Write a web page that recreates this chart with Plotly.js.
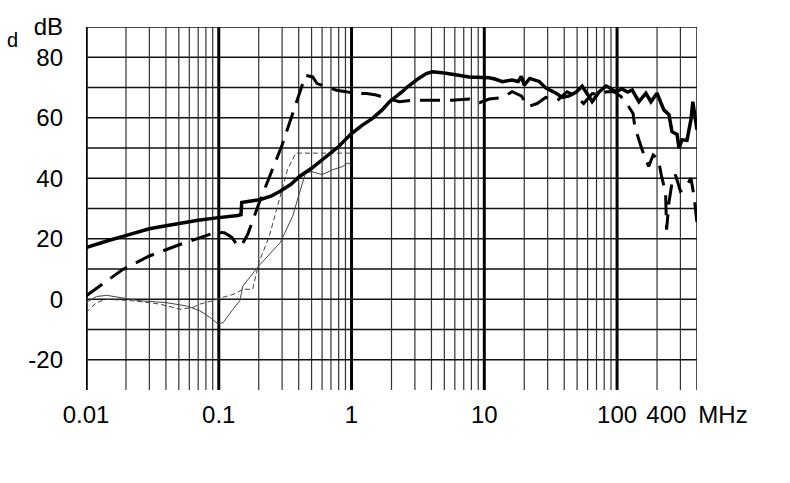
<!DOCTYPE html>
<html>
<head>
<meta charset="utf-8">
<script src="https://cdn.plot.ly/plotly-3.0.1.min.js"></script>
<style>
  html, body { margin: 0; padding: 0; background: #fff; }
  #chart { width: 790px; height: 483px; }
</style>
</head>
<body>
<div id="chart"></div>
<script>
// frequency axis (MHz) and level (dB)
var xTicks = [0.01, 0.1, 1, 10, 100, 400];
var xTickText = ["0.01", "0.1", "1", "10", "100", "400\u2002MHz"];
var yTicks = [-20, -10, 0, 10, 20, 30, 40, 50, 60, 70, 80, 90];
var yTickText = ["-20", "", "0", "", "20", "", "40", "", "60", "", "80", "dB"];

// thick solid curve
var fThick = [0.01, 0.012, 0.015, 0.019, 0.025, 0.03, 0.04, 0.051, 0.07, 0.096, 0.12, 0.139, 0.147, 0.149, 0.17, 0.204,
  0.25, 0.29, 0.35, 0.405, 0.5, 0.605, 0.8, 0.99, 1.2, 1.44, 1.7, 1.93, 2.1, 2.41, 2.6, 2.82, 3.2, 3.66, 4.06, 5.0, 5.7,
  7.7, 9.7, 10.9, 12, 13.7, 16.2, 18, 19, 20, 22, 25.9, 29.3, 34.8, 38.6, 43.5, 49.2, 54.6, 59.4, 64.9, 73.2, 82.7, 87,
  98, 109, 120, 130, 146, 165, 180, 200, 225, 246, 259, 283, 293, 308, 336, 360, 372, 400];
var dbThick = [17.1, 18.3, 19.5, 20.8, 22.2, 23.3, 24.3, 25.2, 26.1, 26.9, 27.3, 27.7, 28.0, 32.0, 32.4, 32.9,
  34.2, 35.7, 38, 40.6, 43.3, 46.1, 50.5, 54.6, 57.5, 59.8, 62.6, 65.3, 66.5, 68.6, 70, 71.3, 73, 74.6, 75.2, 74.8, 74.4,
  73.5, 73.3, 73.2, 72.8, 71.9, 72.5, 72.0, 73.7, 70.8, 73.0, 72, 69.7, 68.1, 66.7, 67.2, 68.5, 70.4, 68.0, 65.3, 68.5, 70.5, 70.0,
  68.6, 69.5, 68.5, 69.2, 65.3, 68.1, 65.3, 68.1, 62.6, 61, 55.4, 54.5, 49.9, 52.7, 52.5, 59.3, 65.3, 56];

// thick dashed curve
var fDash = [0.01, 0.019, 0.03, 0.051, 0.096, 0.11, 0.125, 0.14, 0.15, 0.165, 0.2, 0.3, 0.45, 0.51, 0.55, 0.65, 0.77,
  0.91, 1.09, 1.3, 1.54, 1.83, 2.3, 2.88, 4.1, 5.7, 7.7, 9.2, 10.9, 13.7, 16.2, 19, 21.4, 25, 29, 35.6, 42, 49, 56, 65,
  76, 83, 95, 107, 118, 132, 136, 146, 153, 173, 187, 205, 215, 232, 236, 246, 259, 275, 300, 328, 360, 380, 400];
var dbDash = [1.1, 9.9, 14.3, 18.1, 22.2, 22.0, 20.5, 17.5, 18.1, 21.4, 31.5, 51, 74, 73.5, 71.3, 70.2, 69.1,
  68.6, 68, 68, 67.5, 66.4, 65.3, 65.8, 65.8, 65.8, 66.2, 65, 66.2, 66.7, 68.6, 67.2, 63.7, 64.7, 66.7, 65.7, 68.6, 67.2, 64.7, 68,
  67.5, 68.6, 68.6, 67, 64.7, 61.4, 57, 52.7, 49.9, 43.9, 47.7, 46.1, 41.2, 35.1, 23, 32, 38.4, 41.2, 35.7, 36.8, 40.1, 34, 25.3];

// thin dashed curve
var fThinDash = [0.01, 0.012, 0.0143, 0.0225, 0.036, 0.051, 0.064, 0.072, 0.09, 0.101, 0.128, 0.152, 0.18, 0.19,
  0.2, 0.24, 0.29, 0.33, 0.38, 1.0];
var dbThinDash = [-4.4, -1.1, 0, -0.5, -1.6, -3.3, -2.7, -1.6, -0.5, 0.3, 1.6, 3.3, 3.3, 7.7,
  12, 20.8, 34, 43, 48.3, 48.3];

// thin solid curve
var fThin = [0.01, 0.012, 0.0143, 0.018, 0.0255, 0.04, 0.057, 0.072, 0.086, 0.099, 0.108, 0.128, 0.144, 0.152,
  0.2, 0.29, 0.36, 0.405, 0.45, 0.5, 0.6, 0.72, 0.86, 0.93, 1.0];
var dbThin = [-1.1, 0.9, 1.3, 0.5, -0.5, -1.1, -2.2, -3.8, -6, -8.2, -7.7, -3.3, -0.5, 4.4,
  11, 18.7, 27.4, 35.1, 41.7, 42.2, 41.2, 42.8, 43.9, 45, 44.5];

// grid
var decades = [0.01, 0.1, 1, 10, 100];
var yGrid = [-20, -10, 0, 10, 20, 30, 40, 50, 60, 70, 80, 90];
var shapes = [];
decades.forEach(function (d) {
  for (var k = 1; k <= 9; k++) {
    var v = d * k;
    if (v > 400.5) break;
    shapes.push({type: 'line', layer: 'below', xref: 'x', yref: 'paper', x0: v, x1: v, y0: 0, y1: 1,
      line: {color: k === 1 ? '#000' : '#333', width: k === 1 ? (d === 0.01 ? 3.5 : 3) : 1.2}});
  }
});
shapes.push({type: 'line', layer: 'below', xref: 'x', yref: 'paper', x0: 400, x1: 400, y0: 0, y1: 1,
  line: {color: '#333', width: 1.2}});
yGrid.forEach(function (g) {
  shapes.push({type: 'line', layer: 'below', xref: 'paper', yref: 'y', x0: 0, x1: 1, y0: g, y1: g,
    line: {color: '#111', width: 1.4}});
});

var traces = [
  {x: fThin, y: dbThin, mode: 'lines', line: {color: '#444', width: 1}},
  {x: fThinDash, y: dbThinDash, mode: 'lines', line: {color: '#444', width: 1, dash: '5px,3px'}},
  {x: fDash, y: dbDash, mode: 'lines', line: {color: '#000', width: 3, dash: '20px,10px'}},
  {x: fThick, y: dbThick, mode: 'lines', line: {color: '#000', width: 3.5}}
];

var layout = {
  width: 790, height: 483,
  margin: {l: 86, r: 93, t: 27, b: 93},
  paper_bgcolor: '#fff', plot_bgcolor: '#fff',
  showlegend: false,
  font: {family: 'Arial, "Liberation Sans", sans-serif', size: 24, color: '#000'},
  xaxis: {type: 'log', range: [-2, Math.log10(400)], showgrid: false, zeroline: false,
    tickvals: xTicks, ticktext: xTickText, ticks: '', ticklabelstandoff: 8,
    tickfont: {size: 24}},
  yaxis: {range: [-30, 90], showgrid: false, zeroline: false,
    tickvals: yTicks, ticktext: yTickText, ticks: '', ticklabelstandoff: 22,
    tickfont: {size: 24}},
  shapes: shapes,
  annotations: [{text: 'd', xref: 'paper', yref: 'paper', x: -0.121, y: 0.964, xanchor: 'center', yanchor: 'middle',
    showarrow: false, font: {size: 20, color: '#000'}}]
};

Plotly.newPlot('chart', traces, layout, {staticPlot: true});
</script>
</body>
</html>
